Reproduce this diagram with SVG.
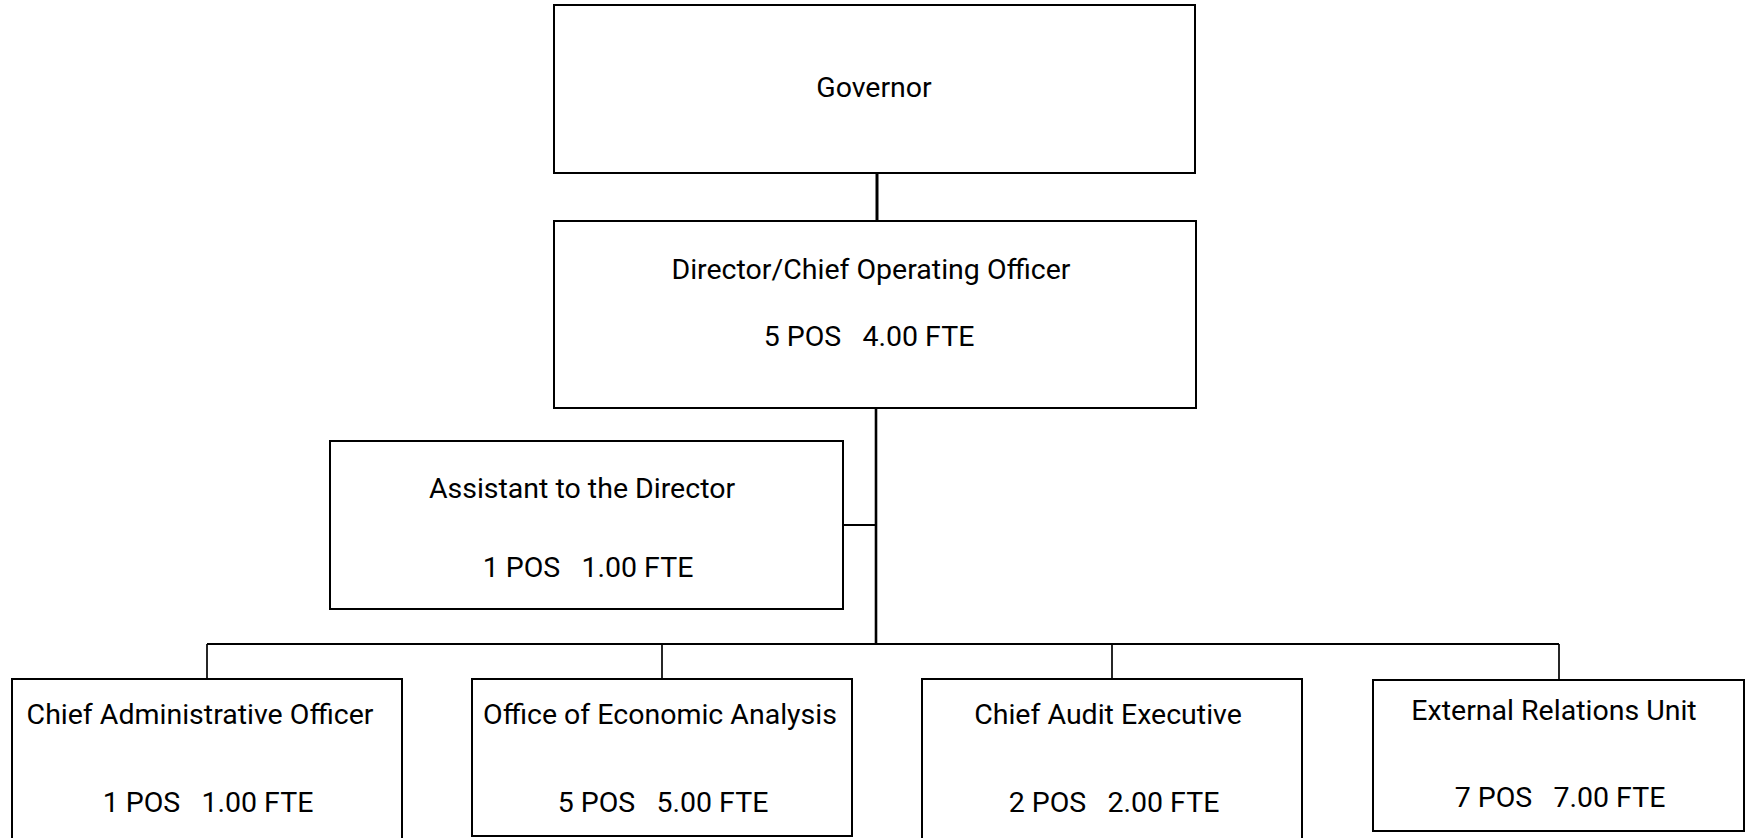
<svg xmlns="http://www.w3.org/2000/svg" width="1745" height="838" viewBox="0 0 1745 838">
  <style>
    .box { fill: #ffffff; stroke: #000000; stroke-width: 2; }
    .lbl { font-family: Roboto, "Liberation Sans", sans-serif; font-size: 28.5px; fill: #000000; text-anchor: middle; white-space: pre; }
    .link { fill: none; stroke: #000000; stroke-width: 2; }
    .thin { fill: none; stroke: #000000; stroke-width: 1.7; }
  </style>
  <rect width="1745" height="838" fill="#ffffff"/>

  <!-- reporting lines -->
  <g id="connectors">
    <line class="link" x1="877" y1="173" x2="877" y2="221" style="stroke-width:3"/>
    <line class="link" x1="876" y1="408" x2="876" y2="644" style="stroke-width:2.6"/>
    <line class="link" x1="843" y1="525" x2="876" y2="525"/>
    <line class="link" x1="207" y1="644" x2="1559" y2="644"/>
    <line class="thin" x1="207" y1="644" x2="207" y2="679"/>
    <line class="thin" x1="662" y1="644" x2="662" y2="679"/>
    <line class="thin" x1="1112" y1="644" x2="1112" y2="679"/>
    <line class="thin" x1="1559" y1="644" x2="1559" y2="680"/>
  </g>

  <g id="governor">
    <rect class="box" x="554" y="5" width="641" height="168"/>
    <text class="lbl" x="874" y="97">Governor</text>
  </g>

  <g id="director">
    <rect class="box" x="554" y="221" width="642" height="187"/>
    <text class="lbl" x="871" y="279">Director/Chief Operating Officer</text>
    <text class="lbl" x="869" y="346">5 POS   4.00 FTE</text>
  </g>

  <g id="assistant">
    <rect class="box" x="330" y="441" width="513" height="168"/>
    <text class="lbl" x="582" y="498">Assistant to the Director</text>
    <text class="lbl" x="588" y="577">1 POS   1.00 FTE</text>
  </g>

  <g id="chief-administrative-officer">
    <rect class="box" x="12" y="679" width="390" height="200"/>
    <text class="lbl" x="200" y="724">Chief Administrative Officer</text>
    <text class="lbl" x="208" y="812">1 POS   1.00 FTE</text>
  </g>

  <g id="office-of-economic-analysis">
    <rect class="box" x="472" y="679" width="380" height="157"/>
    <text class="lbl" x="660" y="724">Office of Economic Analysis</text>
    <text class="lbl" x="663" y="812">5 POS   5.00 FTE</text>
  </g>

  <g id="chief-audit-executive">
    <rect class="box" x="922" y="679" width="380" height="200"/>
    <text class="lbl" x="1108" y="724">Chief Audit Executive</text>
    <text class="lbl" x="1114" y="812">2 POS   2.00 FTE</text>
  </g>

  <g id="external-relations-unit">
    <rect class="box" x="1373" y="680" width="371" height="151"/>
    <text class="lbl" x="1554" y="720">External Relations Unit</text>
    <text class="lbl" x="1560" y="807">7 POS   7.00 FTE</text>
  </g>
</svg>
